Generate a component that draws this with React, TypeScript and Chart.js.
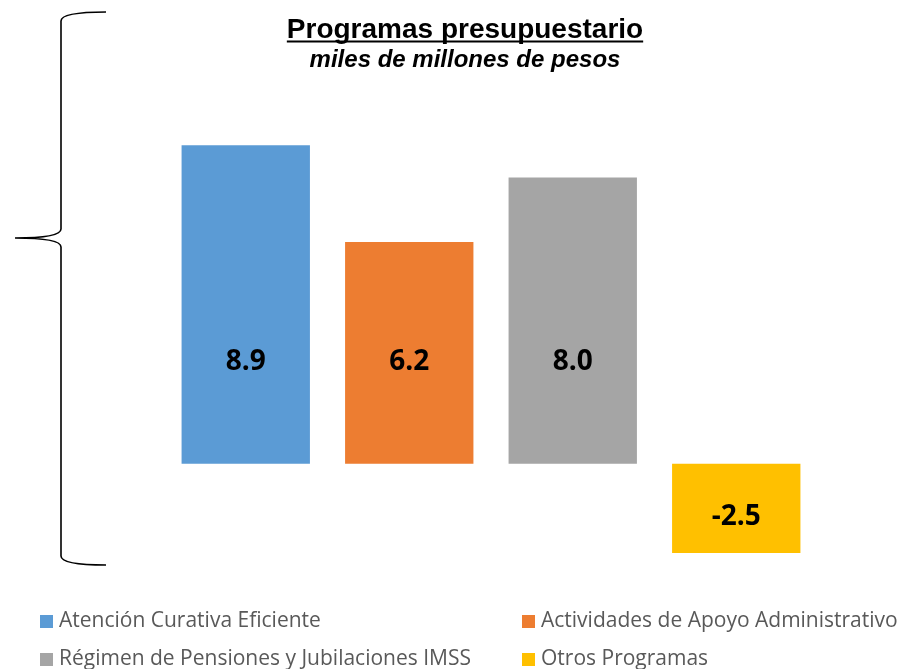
import React, { useEffect, useRef } from "react";
import { Chart, registerables } from "chart.js";

Chart.register(...registerables);

const categories = [
  "Atención Curativa Eficiente",
  "Actividades de Apoyo Administrativo",
  "Régimen de Pensiones y Jubilaciones IMSS",
  "Otros Programas",
];
const values = [8.9, 6.2, 8.0, -2.5];
const colors = ["#5B9BD5", "#ED7D31", "#A5A5A5", "#FFC000"];
const titleText = "Programas presupuestario";
const subtitleText = "miles de millones de pesos";

const bracePlugin = {
  id: "brace",
  afterDraw(chart: any) {
    const ctx = chart.ctx;
    ctx.save();
    ctx.strokeStyle = "#000";
    ctx.lineWidth = 1.6;
    ctx.beginPath();
    const x = 61, r = 106, tip = 15;
    const top = 12, mid = 238, bot = 565;
    ctx.moveTo(r, top);
    ctx.bezierCurveTo(80, top, 61, 14, x, 21);
    ctx.lineTo(x, mid - 9);
    ctx.bezierCurveTo(x, mid - 2, 40, mid, tip, mid);
    ctx.moveTo(tip, mid);
    ctx.bezierCurveTo(40, mid, x, mid + 2, x, mid + 9);
    ctx.lineTo(x, bot - 9);
    ctx.bezierCurveTo(61, bot - 2, 80, bot, r, bot);
    ctx.stroke();
    ctx.restore();

    // title
    ctx.save();
    ctx.fillStyle = "#000";
    ctx.textAlign = "center";
    ctx.textBaseline = "alphabetic";
    ctx.font = "bold 28px 'Liberation Sans', Arial, sans-serif";
    const cx = 465;
    ctx.fillText(titleText, cx, 38);
    const w = ctx.measureText(titleText).width;
    ctx.fillRect(cx - w / 2, 40.5, w, 2);
    ctx.font = "italic bold 24px 'Liberation Sans', Arial, sans-serif";
    ctx.fillText(subtitleText, cx, 67);
    ctx.restore();

    // legend
    ctx.save();
    ctx.font = "21px 'Open Sans', sans-serif";
    ctx.textBaseline = "middle";
    ctx.textAlign = "left";
    const pos = [
      [40, 621],
      [522, 621],
      [40, 659],
      [522, 659],
    ];
    categories.forEach((c, i) => {
      const [lx, ly] = pos[i];
      ctx.fillStyle = colors[i];
      ctx.fillRect(lx, ly - 6, 13, 13);
      ctx.fillStyle = "#595959";
      ctx.fillText(c, lx + 19, ly);
    });
    ctx.restore();

    // data labels
    ctx.save();
    ctx.font = "bold 28px 'Open Sans', sans-serif";
    ctx.fillStyle = "#000";
    ctx.textAlign = "center";
    ctx.textBaseline = "middle";
    const meta = chart.getDatasetMeta(0);
    const ys = chart.scales.y;
    meta.data.forEach((bar: any, i: number) => {
      const v = values[i];
      const ly = v > 0 ? ys.getPixelForValue(Math.min(v / 2, 2.85)) : ys.getPixelForValue(v / 2 - 0.25);
      ctx.fillText(v.toFixed(1), bar.x, ly);
    });
    ctx.restore();
  },
};

export default function App() {
  const ref = useRef<HTMLCanvasElement>(null);
  useEffect(() => {
    document.body.style.margin = "0";
    const chart = new Chart(ref.current!, {
      type: "bar",
      data: {
        labels: categories,
        datasets: [
          {
            data: values,
            backgroundColor: colors,
            categoryPercentage: 1,
            barPercentage: 0.785,
          },
        ],
      },
      options: {
        animation: false,
        responsive: false,
        layout: { padding: { left: 164, right: 82, top: 106, bottom: 98 } },
        plugins: { legend: { display: false }, tooltip: { enabled: false }, title: { display: false } },
        scales: {
          x: { display: false },
          y: { display: false, min: -3, max: 10 },
        },
      },
      plugins: [bracePlugin],
    });
    return () => chart.destroy();
  }, []);
  return (
    <div style={{ width: 900, height: 669, overflow: "hidden" }}>
      <canvas ref={ref} width={900} height={669} style={{ display: "block" }} />
    </div>
  );
}
